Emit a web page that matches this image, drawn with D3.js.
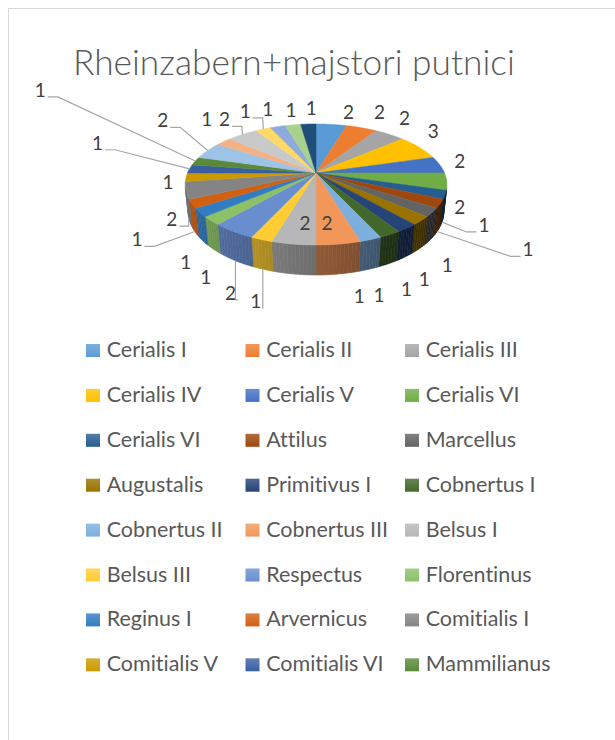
<!DOCTYPE html>
<html>
<head>
<meta charset="utf-8">
<script src="https://cdn.jsdelivr.net/npm/d3@7"></script>
<style>
  body { margin: 0; background: #fff; }
  svg { display: block; }
  text { font-family: Lato, "Open Sans", sans-serif; font-variant-ligatures: none; font-feature-settings: "liga" 0, "clig" 0; }
</style>
</head>
<body>
<svg id="chart" width="615" height="740"></svg>
<script>
const TITLE = "Rheinzabern+majstori putnici";

// categories in pie order (only the first 24 fit in the legend)
const categories = [
  "Cerialis I", "Cerialis II", "Cerialis III", "Cerialis IV", "Cerialis V", "Cerialis VI",
  "Cerialis VI", "Attilus", "Marcellus", "Augustalis", "Primitivus I", "Cobnertus I",
  "Cobnertus II", "Cobnertus III", "Belsus I", "Belsus III", "Respectus", "Florentinus",
  "Reginus I", "Arvernicus", "Comitialis I", "Comitialis V", "Comitialis VI", "Mammilianus",
  "#25", "#26", "#27", "#28", "#29", "#30", "#31"
];
const values = [
  2, 2, 2, 3, 2, 2,
  1, 1, 1, 1, 1, 1,
  1, 2, 2, 1, 2, 1,
  1, 1, 2, 1, 1, 1,
  2, 1, 2, 1, 1, 1, 1
];

const palette = [
  "#5B9BD5", "#ED7D31", "#A5A5A5", "#FFC000", "#4472C4", "#70AD47",
  "#255E91", "#9E480E", "#636363", "#997300", "#264478", "#43682B",
  "#7CAFDD", "#F1975A", "#B7B7B7", "#FFCD33", "#698ED0", "#8CC168",
  "#327DC2", "#D26012", "#848484", "#CC9A00", "#3A5FA1", "#5A8A39",
  "#9DC3E6", "#F4B183", "#C9C9C9", "#FFD966", "#8FAADC", "#A9D18E", "#1F4E79"
];

const LEGEND_SHOWN = 24;

// label layout: shift from the slice's edge point, leader lines for moved labels
const LABEL_NUDGE = [
  [17, -12], [18, -16], [15, -16], [14, -16], [20, -4], [16, -1],
  [42, 3], [91, 18], [18, 24], [6, 30], [2, 32], [-9, 31],
  [-10, 27], [-5, 0], [5, 0], [-7, 32], [-5, 32], [-8, 28],
  [-17, 21], [-58, 8], [-17, 2], [-21, -21], [-92, -26], [-155, -71],
  [-45, -30], [-17, -22], [-18, -15], [-18, -18], [-10, -17], [-2, -15], [3, -16]
];
const LEADER_SLICES = [7, 8, 16, 17, 20, 21, 23, 24, 25, 27, 28];

// 3d pie: perspective view of a tilted disc
const CX = 316, CY = 173;
const FOCAL = 602.3, DIST = 4.687, TILT = 27 * Math.PI / 180, DEPTH = 0.232;
const cosT = Math.cos(TILT), sinT = Math.sin(TILT);
const DEG = Math.PI / 180;

function project(r, th, y) {
  const X = r * Math.cos(th), Z = r * Math.sin(th);
  const yc = y * cosT - Z * sinT;
  const zc = y * sinT + Z * cosT;
  const w = DIST - zc;
  return [CX + FOCAL * X / w, CY - FOCAL * yc / w];
}

function arcPts(r, a, b, y) {
  const n = Math.max(2, Math.ceil(Math.abs(b - a) / DEG));
  return d3.range(n + 1).map(i => project(r, a + (b - a) * i / n, y));
}

function shade(col, th) {
  const f = 0.6 - 0.25 * Math.cos(th);
  const c = d3.rgb(col);
  return d3.rgb(c.r * f, c.g * f, c.b * f).formatHex();
}

const svg = d3.select("#chart");
const color = d3.scaleOrdinal(d3.range(values.length), palette);
const line = d3.line();

function fitSize(text, target, weight) {
  const t = svg.append("text").attr("font-size", 100).attr("font-weight", weight).text(text);
  const w = t.node().getComputedTextLength();
  t.remove();
  return 100 * target / w;
}

// chart area border
svg.append("rect")
  .attr("x", 8.5).attr("y", 8.5).attr("width", 800).attr("height", 900)
  .attr("fill", "#fff").attr("stroke", "#D9D9D9").attr("stroke-width", 1);

// title
svg.append("text")
  .attr("x", 73).attr("y", 75)
  .attr("font-size", fitSize(TITLE, 442, 300))
  .attr("font-weight", 300)
  .attr("fill", "#595959")
  .text(TITLE);

const arcs = d3.pie().sort(null).value(d => d)(values).map((a, i) => ({
  i,
  value: a.data,
  th0: a.startAngle - Math.PI / 2,
  th1: a.endAngle - Math.PI / 2
}));

const pieG = svg.append("g");

// outer wall, front part only
const thV = Math.asin(1 / (DIST * cosT));
const wallG = pieG.append("g");
arcs.forEach(a => {
  const lo = Math.max(a.th0, thV), hi = Math.min(a.th1, Math.PI - thV);
  if (hi <= lo) return;
  const n = Math.max(1, Math.ceil((hi - lo) / (1.5 * DEG)));
  for (let k = 0; k < n; k++) {
    const s = lo + (hi - lo) * k / n, e = lo + (hi - lo) * (k + 1) / n;
    const pts = arcPts(1, s, e, 0).concat(arcPts(1, e, s, -DEPTH));
    const c = shade(color(a.i), (s + e) / 2);
    wallG.append("path")
      .attr("d", line(pts) + "Z")
      .attr("fill", c).attr("stroke", c).attr("stroke-width", 0.6);
  }
});

// top faces
pieG.append("g").selectAll("path")
  .data(arcs)
  .join("path")
  .attr("d", a => line([[CX, CY]].concat(arcPts(1, a.th0, a.th1, 0))) + "Z")
  .attr("fill", a => color(a.i))
  .attr("stroke", a => color(a.i))
  .attr("stroke-width", 0.5);

// data labels
const LABEL_FS = 19;
const labelG = svg.append("g");
arcs.forEach(a => {
  const th = (a.th0 + a.th1) / 2;
  const e0 = project(0.75, a.th0, 0), e1 = project(0.75, a.th1, 0);
  const inside = Math.hypot(e1[0] - e0[0], e1[1] - e0[1]) >= 29;
  let anchor;
  if (inside) anchor = project(0.75, th, 0);
  else if (Math.sin(th) < 0) anchor = project(1, th, 0);
  else anchor = project(1, th, -DEPTH);
  const lx = anchor[0] + LABEL_NUDGE[a.i][0];
  const ly = anchor[1] + LABEL_NUDGE[a.i][1];
  const base = ly + 0.36 * LABEL_FS;

  const t = labelG.append("text")
    .attr("x", lx).attr("y", base)
    .attr("text-anchor", "middle")
    .attr("font-size", LABEL_FS)
    .attr("fill", "#404040")
    .text(a.value);

  if (LEADER_SLICES.includes(a.i + 1)) {
    const hw = t.node().getComputedTextLength() / 2;
    const side = anchor[0] > lx ? 1 : -1;
    const end = [lx + side * (hw + 2), base];
    let elbow = [end[0] + side * 10, base];
    if ((anchor[0] - elbow[0]) * side < 0) elbow = [anchor[0], base];
    labelG.insert("path", "text")
      .attr("d", line([anchor, elbow, end]))
      .attr("fill", "none")
      .attr("stroke", "#A6A6A6")
      .attr("stroke-width", 1.2);
  }
});

// legend
const LEG_X = 86, LEG_COL = 159.5, LEG_Y = 344, LEG_ROW = 44.9;
const legFs = fitSize("Cobnertus III", 122, 400);
const defs = svg.append("defs");
const legItems = d3.range(LEGEND_SHOWN);
legItems.forEach(i => {
  const g = defs.append("linearGradient").attr("id", "lg" + i)
    .attr("x1", 0).attr("y1", 0).attr("x2", 0).attr("y2", 1);
  g.append("stop").attr("offset", 0).attr("stop-color", d3.interpolateRgb(color(i), "#fff")(0.2));
  g.append("stop").attr("offset", 1).attr("stop-color", color(i));
});
const leg = svg.append("g").selectAll("g")
  .data(legItems)
  .join("g")
  .attr("transform", i => `translate(${LEG_X + (i % 3) * LEG_COL},${LEG_Y + Math.floor(i / 3) * LEG_ROW})`);
leg.append("rect")
  .attr("width", 14).attr("height", 13)
  .attr("fill", i => `url(#lg${i})`);
leg.append("text")
  .attr("x", 20.7).attr("y", 13)
  .attr("font-size", legFs)
  .attr("fill", "#595959")
  .text(i => categories[i]);
</script>
</body>
</html>
